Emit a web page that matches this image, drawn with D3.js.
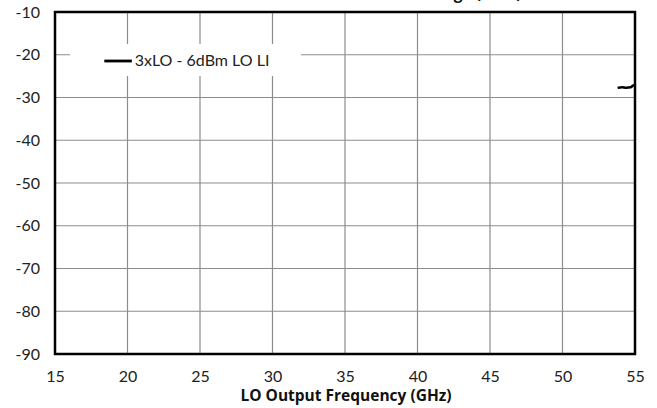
<!DOCTYPE html>
<html><head><meta charset="utf-8">
<script src="https://cdn.jsdelivr.net/npm/d3@7"></script>
<style>body{margin:0;background:#fff}svg{display:block}</style>
</head><body><svg id="c" width="657" height="408"></svg>
<script>
const freq = [53.8, 54.1, 54.4, 54.7, 54.85, 55.0];
const leak = [-27.75, -27.6, -27.7, -27.6, -27.25, -27.1];
const xTicks = [15, 20, 25, 30, 35, 40, 45, 50, 55];
const yTicks = [-90, -80, -70, -60, -50, -40, -30, -20, -10];
const seriesName = "3xLO - 6dBm LO LI";
const xTitle = "LO Output Frequency (GHz)";
const chartTitle = "LO Leakage (dBm)";

const svg = d3.select("#c");
const L = 55, R = 635, T = 12, B = 354;
const x = d3.scaleLinear().domain([15, 55]).range([L, R]);
const y = d3.scaleLinear().domain([-90, -10]).range([B, T]);
const font = "Lato, 'Open Sans', sans-serif";
const boldFont = "'Open Sans', sans-serif";

// grid
svg.append("g").selectAll("line").data(xTicks).join("line")
  .attr("x1", d => x(d)).attr("x2", d => x(d)).attr("y1", T).attr("y2", B)
  .attr("stroke", "#8c8c8c").attr("stroke-width", 1.2);
svg.append("g").selectAll("line").data(yTicks).join("line")
  .attr("x1", L).attr("x2", R).attr("y1", d => y(d)).attr("y2", d => y(d))
  .attr("stroke", "#8c8c8c").attr("stroke-width", 1.2);

// legend box background
svg.append("rect").attr("x", 70).attr("y", 44).attr("width", 231).attr("height", 32).attr("fill", "#fff");

// series
const pts = freq.map((f, i) => [f, leak[i]]);
svg.append("path").datum(pts)
  .attr("d", d3.line().x(d => x(d[0])).y(d => y(d[1])).curve(d3.curveMonotoneX))
  .attr("fill", "none").attr("stroke", "#000").attr("stroke-width", 2.5);

// border
svg.append("rect").attr("x", L).attr("y", T).attr("width", R - L).attr("height", B - T)
  .attr("fill", "none").attr("stroke", "#000").attr("stroke-width", 2.5);

const fmt = d => String(d);
// axes labels
const xAxis = d3.axisBottom(x).tickValues(xTicks).tickSize(0).tickPadding(17).tickFormat(fmt);
const gx = svg.append("g").attr("transform", `translate(0,${B})`).call(xAxis);
gx.select(".domain").remove();
gx.selectAll("text").attr("font-family", font).attr("font-size", 16).attr("fill", "#222");

const yAxis = d3.axisLeft(y).tickValues(yTicks).tickSize(0).tickPadding(15).tickFormat(fmt);
const gy = svg.append("g").attr("transform", `translate(${L},0)`).call(yAxis);
gy.select(".domain").remove();
gy.selectAll("text").attr("font-family", font).attr("font-size", 16).attr("fill", "#222");

svg.append("text").attr("x", 346).attr("y", 401).attr("text-anchor", "middle")
  .attr("font-family", boldFont).attr("font-weight", "bold").attr("font-size", 15.5).attr("fill", "#111")
  .text(xTitle);

svg.append("text").attr("x", 452).attr("y", -1).attr("text-anchor", "middle")
  .attr("font-family", boldFont).attr("font-weight", "bold").attr("font-size", 15.5).attr("fill", "#111")
  .text(chartTitle);

// legend
svg.append("line").attr("x1", x(18.4)).attr("x2", x(20.3)).attr("y1", 61).attr("y2", 61)
  .attr("stroke", "#000").attr("stroke-width", 2.8);
svg.append("text").attr("x", x(20.5)).attr("y", 66).attr("font-family", font).attr("font-size", 16).attr("fill", "#222")
  .text(seriesName);
</script></body></html>
